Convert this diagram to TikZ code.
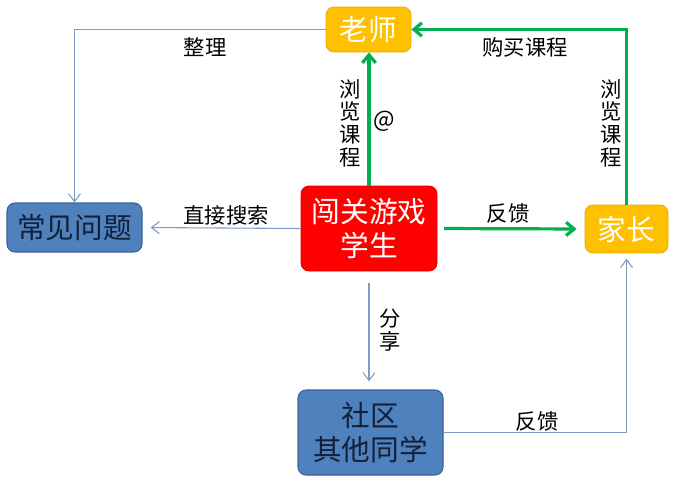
\documentclass[tikz,border=0pt]{standalone}
\usepackage{fontspec}
\setmainfont{Noto Sans CJK SC}
\usetikzlibrary{arrows.meta}
\definecolor{orng}{HTML}{FFC000}
\definecolor{bluebox}{HTML}{4F81BD}
\definecolor{blueedge}{HTML}{3A6396}
\definecolor{grn}{HTML}{00B050}
\definecolor{thinline}{HTML}{7F9CC4}
\definecolor{navytext}{HTML}{14203A}
\begin{document}
\begin{tikzpicture}[x=0.75pt,y=-0.75pt,
  box/.style={rounded corners=6pt, inner sep=0pt, align=center, font=\fontsize{21.5}{25.5}\selectfont},
  obox/.style={box, fill=orng, draw=orng!90!black, line width=0.6pt, text=white},
  rbox/.style={box, fill=red, draw=red!85!black, line width=0.6pt, text=white},
  bbox/.style={box, fill=bluebox, draw=blueedge, line width=0.8pt, text=navytext},
  thinarr/.style={draw=thinline, line width=0.8pt, -{Straight Barb[length=6pt,width=9pt]}},
  grnarr/.style={draw=grn, line width=2.4pt, -{Straight Barb[length=6pt,width=10pt]}},
  lbl/.style={font=\fontsize{16}{17}\selectfont, inner sep=0pt, align=center}
]
\useasboundingbox (0,0) rectangle (681,489);
\fill[white] (0,0) rectangle (681,489);

\node[obox, minimum width=63.75pt, minimum height=33.75pt] (teacher) at (368.5,29.5) {老师};
\node[rbox, minimum width=102pt, minimum height=63.75pt] (stu) at (369,228.5) {闯关游戏\\学生};
\node[bbox, minimum width=101.25pt, minimum height=36.75pt] (faq) at (74.5,227.5) {常见问题};
\node[obox, minimum width=62.25pt, minimum height=36pt] (parent) at (626.5,229) {家长};
\node[bbox, minimum width=108.75pt, minimum height=63.75pt] (comm) at (370.5,432.5) {社区\\其他同学};

% connectors
\draw[thinarr] (teacher.west) -| (faq.north);
\draw[grnarr] (stu.north) -- (stu.north |- teacher.south);
\draw[grnarr] (parent.north) |- (teacher.east);
\draw[thinarr, shorten >=6pt] (stu.west) -- (faq.east);
\draw[grnarr, shorten <=5pt, shorten >=6pt] (stu.east) -- (parent.west);
\draw[thinarr, shorten <=9pt, shorten >=6pt] (stu.south) -- (stu.south |- comm.north);
\draw[thinarr, shorten >=4pt] (comm.east) -| (parent.south);

% labels
\node[lbl] (l1) at (205,47) {整理};
\node[lbl] (l2) at (525,47) {购买课程};
\node[lbl] (l3) at (350,123) {浏\\览\\课\\程};
\node[lbl] (l4) at (611,123) {浏\\览\\课\\程};
\node[lbl, font=\fontsize{17}{17}\selectfont] (l5) at (384,121) {@};
\node[lbl] (l6) at (226,215) {直接搜索};
\node[lbl] (l7) at (508,213) {反馈};
\node[lbl] (l8) at (390,330) {分\\享};
\node[lbl] (l9) at (537,421) {反馈};
\end{tikzpicture}
\end{document}
